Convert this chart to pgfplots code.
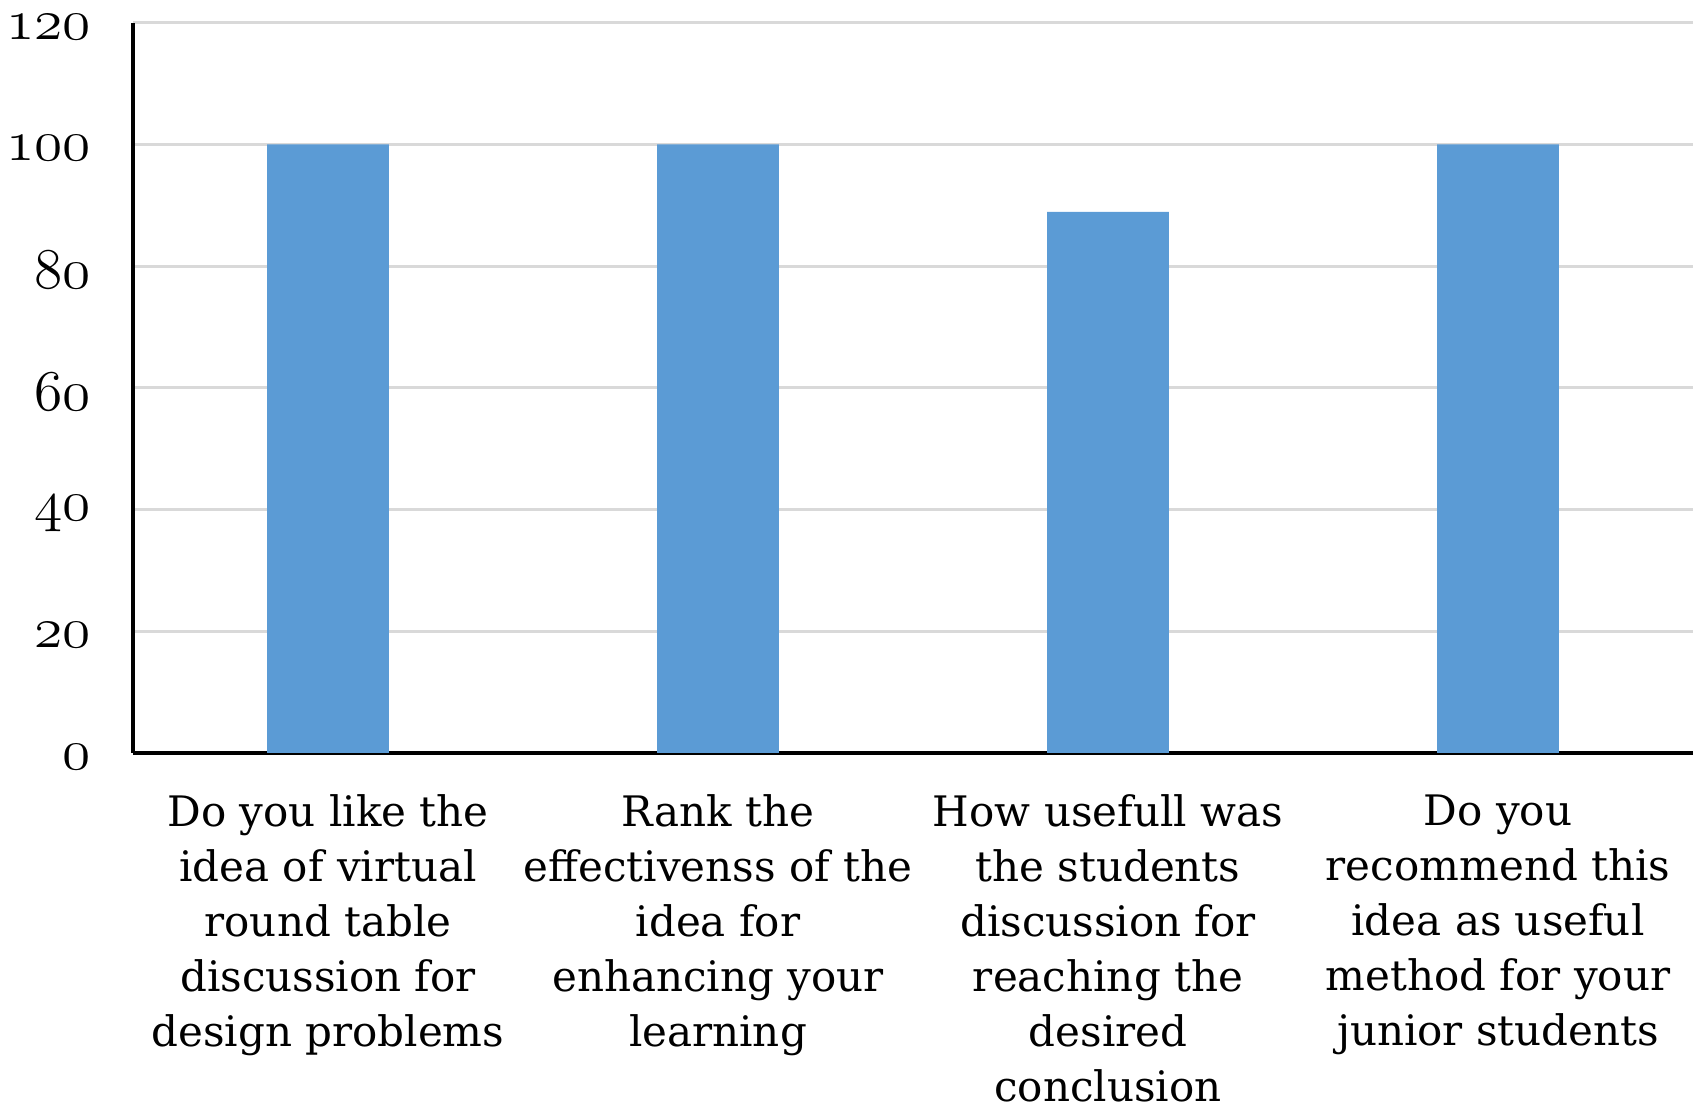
\documentclass[border=0pt]{standalone}
\usepackage{fontspec}
\setmainfont{DejaVu Serif}
\usepackage{pgfplots}
\pgfplotsset{compat=1.18}
\definecolor{barblue}{HTML}{5B9BD5}
\definecolor{gridgray}{HTML}{D9D9D9}
% old-style figures for the value axis (taken from the math letter font)
\newcommand{\osn}[1]{{\fontsize{15}{15}\selectfont$\mathnormal{#1}$}}

\begin{document}
\begin{tikzpicture}
\begin{axis}[
  at={(0,0)}, anchor=south west,
  scale only axis,
  width=390pt, height=182.5pt,
  xmin=-0.5, xmax=3.5,
  ymin=0, ymax=120,
  ytick={0,20,40,60,80,100,120},
  yticklabels={\osn{0},\osn{20},\osn{40},\osn{60},\osn{80},\osn{100},\osn{120}},
  xtick={0,1,2,3},
  xticklabels={
    {Do you like the\\idea of virtual\\round table\\discussion for\\design problems},
    {Rank the\\effectivenss of the\\idea for\\enhancing your\\learning},
    {How usefull was\\the students\\discussion for\\reaching the\\desired\\conclusion},
    {Do you\\recommend this\\idea as useful\\method for your\\junior students}},
  xticklabel style={align=center, font=\fontsize{10.5}{13.75}\selectfont, anchor=north, yshift=-7pt},
  yticklabel style={xshift=-7pt, yshift=-1pt},
  major tick length=0pt,
  axis x line*=bottom, axis y line*=left,
  axis line style={black, line width=0.9pt},
  ymajorgrids, grid style={gridgray, line width=0.75pt},
  x axis line style={-}, y axis line style={-},
  ybar, bar width=0.312, bar shift=0pt,
]
\addplot[fill=barblue, draw=none] coordinates {(0,100) (1,100) (2,88.9) (3,100)};
\end{axis}
\pgfresetboundingbox
\path[use as bounding box] (-33.25pt,-89.05pt) rectangle (392.5pt,188.2pt);
\end{tikzpicture}
\end{document}
